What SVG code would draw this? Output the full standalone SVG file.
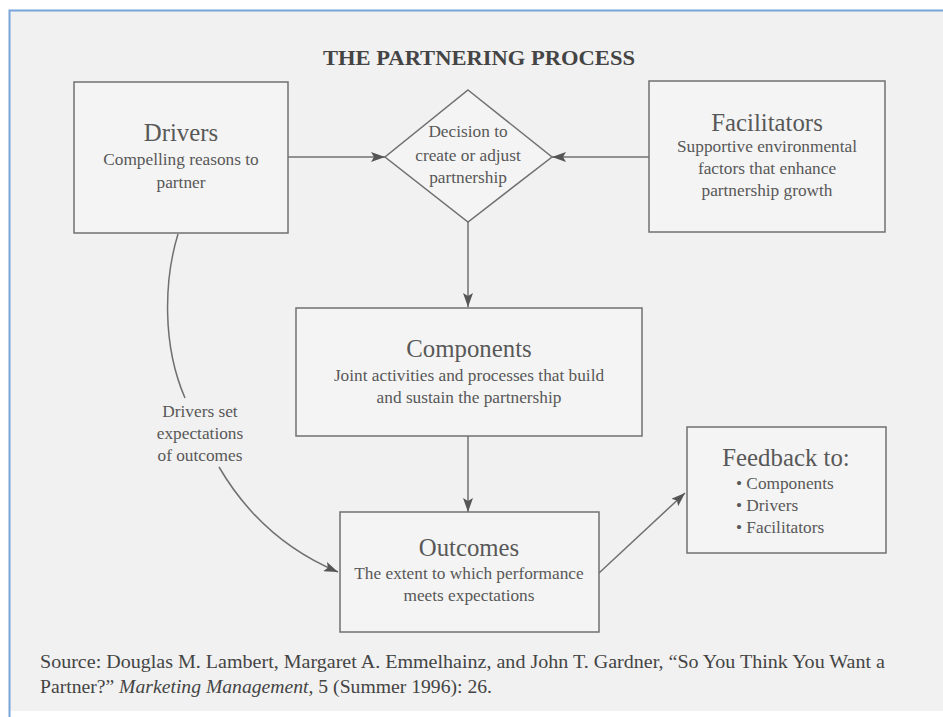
<svg xmlns="http://www.w3.org/2000/svg" width="943" height="717" viewBox="0 0 943 717">
  <defs>
    <marker id="arrow" viewBox="0 0 14 10" refX="14" refY="5" markerWidth="14" markerHeight="10" markerUnits="userSpaceOnUse" orient="auto">
      <path d="M0,0 L14,5 L0,10 L3,5 Z" fill="#555"/>
    </marker>
  </defs>
  <style>
    .box { fill: #f4f4f4; stroke: #707070; stroke-width: 1.5; }
    .link { fill: none; stroke: #707070; stroke-width: 1.5; }
    text { font-family: "Liberation Serif", "Times New Roman", serif; fill: #585858; text-anchor: middle; }
    .head { font-size: 24.8px; }
    .sub { font-size: 17.3px; }
    .left { text-anchor: start; }
    .title { font-size: 22px; font-weight: bold; fill: #444; }
    .src { font-size: 19px; text-anchor: start; fill: #444; }
  </style>

  <!-- page -->
  <rect x="0" y="0" width="943" height="717" fill="#ffffff"/>
  <rect x="10" y="11" width="933" height="700" fill="#f1f1f1"/>
  <path d="M9.5,717 V10.5 H943" fill="none" stroke="#7aa3d8" stroke-width="2"/>

  <text class="title" x="479" y="65" textLength="312" lengthAdjust="spacingAndGlyphs">THE PARTNERING PROCESS</text>

  <!-- connectors -->
  <g id="connectors">
    <line class="link" x1="288" y1="157" x2="385" y2="157" marker-end="url(#arrow)"/>
    <line class="link" x1="649" y1="157" x2="552" y2="157" marker-end="url(#arrow)"/>
    <line class="link" x1="468" y1="222" x2="468" y2="307" marker-end="url(#arrow)"/>
    <line class="link" x1="468" y1="436" x2="468" y2="512" marker-end="url(#arrow)"/>
    <line class="link" x1="599" y1="573" x2="685" y2="493" marker-end="url(#arrow)"/>
    <path class="link" d="M178,234 C164,280 162,345 185,398"/>
    <path class="link" d="M219,467 C250,520 290,552 338,572" marker-end="url(#arrow)"/>
  </g>

  <g id="drivers">
    <rect class="box" x="74" y="82" width="214" height="151"/>
    <text class="head" x="181" y="141">Drivers</text>
    <text class="sub" x="181" y="165">Compelling reasons to</text>
    <text class="sub" x="181" y="188">partner</text>
  </g>

  <g id="decision">
    <polygon class="box" points="468,90 552,157 468,222 385,157"/>
    <text class="sub" x="468" y="137">Decision to</text>
    <text class="sub" x="468" y="161">create or adjust</text>
    <text class="sub" x="468" y="183">partnership</text>
  </g>

  <g id="facilitators">
    <rect class="box" x="649" y="81" width="236" height="151"/>
    <text class="head" x="767" y="131">Facilitators</text>
    <text class="sub" x="767" y="152">Supportive environmental</text>
    <text class="sub" x="767" y="174">factors that enhance</text>
    <text class="sub" x="767" y="196">partnership growth</text>
  </g>

  <g id="components">
    <rect class="box" x="296" y="308" width="346" height="128"/>
    <text class="head" x="469" y="357">Components</text>
    <text class="sub" x="469" y="381">Joint activities and processes that build</text>
    <text class="sub" x="469" y="403">and sustain the partnership</text>
  </g>

  <g id="expectations-label">
    <text class="sub" x="200" y="417">Drivers set</text>
    <text class="sub" x="200" y="439">expectations</text>
    <text class="sub" x="200" y="461">of outcomes</text>
  </g>

  <g id="outcomes">
    <rect class="box" x="340" y="512" width="259" height="120"/>
    <text class="head" x="469" y="556">Outcomes</text>
    <text class="sub" x="469" y="579">The extent to which performance</text>
    <text class="sub" x="469" y="601">meets expectations</text>
  </g>

  <g id="feedback">
    <rect class="box" x="687" y="427" width="199" height="126"/>
    <text class="head" x="786" y="466">Feedback to:</text>
    <text class="sub left" x="736" y="489">• Components</text>
    <text class="sub left" x="736" y="511">• Drivers</text>
    <text class="sub left" x="736" y="533">• Facilitators</text>
  </g>

  <g id="source">
    <text class="src" x="40" y="668" textLength="845" lengthAdjust="spacingAndGlyphs">Source: Douglas M. Lambert, Margaret A. Emmelhainz, and John T. Gardner, “So You Think You Want a</text>
    <text class="src" x="40" y="693" textLength="452" lengthAdjust="spacingAndGlyphs">Partner?” <tspan font-style="italic">Marketing Management</tspan>, 5 (Summer 1996): 26.</text>
  </g>
</svg>
